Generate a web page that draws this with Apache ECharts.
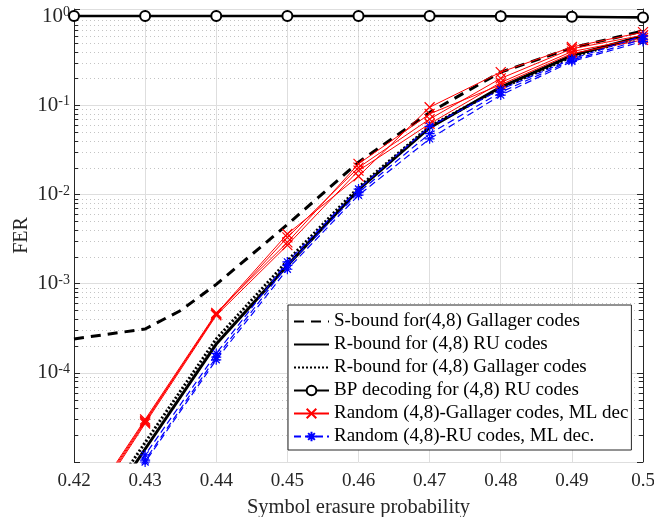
<!DOCTYPE html>
<html>
<head>
<meta charset="utf-8">
<script src="https://cdn.jsdelivr.net/npm/echarts@6/dist/echarts.min.js"></script>
<style>
  html, body { margin: 0; padding: 0; background: #fff; }
  #chart { width: 654px; height: 517px; }
</style>
</head>
<body>
<div id="chart"></div>
<script>
// Symbol erasure probabilities used by most curves
const erasureProb = [0.42, 0.43, 0.44, 0.45, 0.46, 0.47, 0.48, 0.49, 0.50];
// S-bound is evaluated on a slightly finer grid near its knee
const sBoundProb = [0.42, 0.43, 0.435, 0.44, 0.45, 0.46, 0.47, 0.48, 0.49, 0.50];

// Frame error rates
const sBoundGallager = [2.4e-4, 3.1e-4, 5.0e-4, 9.8e-4, 4.6e-3, 2.3e-2, 0.083, 0.235, 0.44, 0.68];
const rBoundRU       = [9.0e-7, 1.4e-5, 2.1e-4, 1.6e-3, 1.13e-2, 0.056, 0.16, 0.36, 0.60];
const rBoundGallager = [1.1e-6, 1.65e-5, 2.4e-4, 1.8e-3, 1.2e-2, 0.058, 0.155, 0.35, 0.59];
const bpRU           = [1, 1, 1, 1, 1, 1, 0.995, 0.985, 0.965];

// ML decoding of several randomly drawn (4,8) Gallager codes
const mlGallager1 = [1.7e-6, 2.8e-5, 4.6e-4, 3.6e-3, 1.6e-2, 0.095, 0.235, 0.45, 0.66];
const mlGallager2 = [1.8e-6, 2.9e-5, 4.5e-4, 3.3e-3, 2.0e-2, 0.070, 0.200, 0.43, 0.61];
const mlGallager3 = [1.6e-6, 2.7e-5, 4.4e-4, 2.7e-3, 1.85e-2, 0.062, 0.180, 0.40, 0.57];
const mlGallager4 = [1.9e-6, 3.0e-5, 4.7e-4, 2.9e-3, 2.2e-2, 0.080, 0.170, 0.38, 0.54];

// ML decoding of several randomly drawn (4,8) RU codes
const mlRU1 = [8.0e-7, 1.2e-5, 1.65e-4, 1.75e-3, 1.15e-2, 0.058, 0.150, 0.33, 0.60];
const mlRU2 = [7.0e-7, 1.05e-5, 1.5e-4, 1.6e-3, 1.05e-2, 0.048, 0.140, 0.32, 0.55];
const mlRU3 = [6.5e-7, 1.0e-5, 1.4e-4, 1.45e-3, 0.98e-2, 0.042, 0.130, 0.31, 0.52];

// Axis settings
const xTicks = [0.42, 0.43, 0.44, 0.45, 0.46, 0.47, 0.48, 0.49, 0.50];
const yDecades = [-5, -4, -3, -2, -1, 0];
const yMaxValue = 1.2;

const NAMES = {
  s: 'S-bound for(4,8) Gallager codes',
  rRU: 'R-bound for (4,8) RU codes',
  rG: 'R-bound for (4,8) Gallager codes',
  bp: 'BP decoding for (4,8) RU codes',
  mlG: 'Random (4,8)-Gallager codes, ML dec',
  mlR: 'Random (4,8)-RU codes, ML dec.'
};

const FONT = 'Liberation Serif';
const AXIS_COLOR = '#262626';

// FER axis is drawn in log10 units
const toPoints = (xs, ys) => xs.map((x, i) => [x, Math.log10(ys[i])]);

// Minor decade positions 2..9 x 10^n
const minorLevels = [];
for (let n = yDecades[0]; n < yDecades[yDecades.length - 1]; n++) {
  for (let k = 2; k <= 9; k++) minorLevels.push([xTicks[0], Math.log10(k * Math.pow(10, n))]);
}

const CROSS = 'path://M0,0L10,10M10,0L0,10';
const STAR = 'path://M5,0L5,10M0,5L10,5M1.5,1.5L8.5,8.5M8.5,1.5L1.5,8.5';

function redSeries(vals) {
  return {
    name: NAMES.mlG, type: 'line', data: toPoints(erasureProb, vals),
    symbol: CROSS, symbolSize: 10, showAllSymbol: true,
    lineStyle: { color: '#ff0000', width: 1 },
    itemStyle: { color: '#ff0000', borderColor: '#ff0000', borderWidth: 1.2 },
    z: 5
  };
}
function blueSeries(vals) {
  return {
    name: NAMES.mlR, type: 'line', data: toPoints(erasureProb, vals),
    symbol: STAR, symbolSize: 10, showAllSymbol: true,
    lineStyle: { color: '#0000ff', width: 1.2, type: [7, 4] },
    itemStyle: { color: '#0000ff', borderColor: '#0000ff', borderWidth: 1.2 },
    z: 6
  };
}

const chart = echarts.init(document.getElementById('chart'), null, { renderer: 'canvas' });

// line-only entries hide the legend marker
const lineOnly = { itemStyle: { opacity: 0 } };

const option = {
  animation: false,
  backgroundColor: '#fff',
  textStyle: { fontFamily: FONT },
  grid: { left: 74, right: 11, top: 9, bottom: 55, containLabel: false, outerBoundsMode: 'none' },
  xAxis: [{
    type: 'value', min: xTicks[0], max: xTicks[xTicks.length - 1], interval: 0.01,
    name: 'Symbol erasure probability', nameLocation: 'middle', nameGap: 35,
    nameTextStyle: { fontFamily: FONT, fontSize: 20.5, color: AXIS_COLOR },
    axisLine: { show: true, lineStyle: { color: AXIS_COLOR, width: 1 } },
    axisTick: { show: true, inside: true, length: 6, lineStyle: { color: AXIS_COLOR } },
    axisLabel: { fontFamily: FONT, fontSize: 19, color: AXIS_COLOR, margin: 10,
      formatter: v => String(+v.toFixed(2)) },
    splitLine: { show: true, lineStyle: { color: '#dedede', width: 1 } }
  }, {
    type: 'value', position: 'top', min: xTicks[0], max: xTicks[xTicks.length - 1], interval: 0.01,
    axisLine: { show: true, lineStyle: { color: AXIS_COLOR, width: 1 } },
    axisTick: { show: true, inside: true, length: 6, lineStyle: { color: AXIS_COLOR } },
    axisLabel: { show: false }, splitLine: { show: false }
  }],
  yAxis: [{
    type: 'value', min: yDecades[0], max: Math.log10(yMaxValue), interval: 1,
    name: 'FER', nameLocation: 'middle', nameGap: 42, nameMoveOverlap: false,
    nameTextStyle: { fontFamily: FONT, fontSize: 20, color: AXIS_COLOR },
    axisLine: { show: true, lineStyle: { color: AXIS_COLOR, width: 1 } },
    axisTick: { show: true, inside: true, length: 6, lineStyle: { color: AXIS_COLOR } },
    axisLabel: {
      margin: 4, color: AXIS_COLOR,
      formatter: v => {
        const r = Math.round(v);
        if (Math.abs(v - r) > 1e-6 || r === yDecades[0]) return '';
        return '{b|10}{s|' + r + '}';
      },
      rich: {
        b: { fontFamily: FONT, fontSize: 21, color: AXIS_COLOR, lineHeight: 21, verticalAlign: 'bottom', padding: [4, 0, 0, 0] },
        s: { fontFamily: FONT, fontSize: 14, color: AXIS_COLOR, lineHeight: 14, verticalAlign: 'top' }
      }
    },
    splitLine: { show: true, lineStyle: { color: '#dedede', width: 1 } }
  }, {
    type: 'value', position: 'right', min: yDecades[0], max: Math.log10(yMaxValue), interval: 1,
    axisLine: { show: true, lineStyle: { color: AXIS_COLOR, width: 1 } },
    axisTick: { show: true, inside: true, length: 6, lineStyle: { color: AXIS_COLOR } },
    axisLabel: { show: false }, splitLine: { show: false }
  }],
  legend: {
    orient: 'vertical', left: 288, top: 305,
    backgroundColor: '#fff', borderColor: AXIS_COLOR, borderWidth: 1,
    padding: [7, 3, 4, 5], itemWidth: 35, itemHeight: 12, itemGap: 4,
    textStyle: { fontFamily: FONT, fontSize: 19, color: '#000' },
    data: [
      Object.assign({ name: NAMES.s }, lineOnly),
      Object.assign({ name: NAMES.rRU }, lineOnly),
      Object.assign({ name: NAMES.rG }, lineOnly),
      { name: NAMES.bp },
      { name: NAMES.mlG },
      { name: NAMES.mlR }
    ]
  },
  series: [
    {
      // minor dotted grid lines and minor ticks on both y axes
      type: 'custom', silent: true, z: 1,
      data: minorLevels,
      renderItem: (params, api) => {
        const cs = params.coordSys;
        const y = Math.round(api.coord([api.value(0), api.value(1)])[1]) + 0.5;
        const x0 = cs.x, x1 = cs.x + cs.width;
        return { type: 'group', children: [
          { type: 'line', shape: { x1: x0, y1: y, x2: x1, y2: y },
            style: { stroke: '#c4c4c4', lineWidth: 1, lineDash: [1, 3] } },
          { type: 'line', shape: { x1: x0, y1: y, x2: x0 + 4, y2: y },
            style: { stroke: AXIS_COLOR, lineWidth: 1 } },
          { type: 'line', shape: { x1: x1 - 4, y1: y, x2: x1, y2: y },
            style: { stroke: AXIS_COLOR, lineWidth: 1 } }
        ] };
      }
    },
    {
      name: NAMES.s, type: 'line', data: toPoints(sBoundProb, sBoundGallager),
      symbol: 'none', lineStyle: { color: '#000', width: 3, type: [10, 7] }, itemStyle: { color: '#000' }, z: 3
    },
    {
      name: NAMES.rRU, type: 'line', data: toPoints(erasureProb, rBoundRU),
      symbol: 'none', lineStyle: { color: '#000', width: 3 }, itemStyle: { color: '#000' }, z: 3
    },
    {
      name: NAMES.rG, type: 'line', data: toPoints(erasureProb, rBoundGallager),
      symbol: 'none', lineStyle: { color: '#000', width: 3, type: [2, 2] }, itemStyle: { color: '#000' }, z: 3
    },
    {
      name: NAMES.bp, type: 'line', data: toPoints(erasureProb, bpRU),
      symbol: 'emptyCircle', symbolSize: 10, showAllSymbol: true,
      lineStyle: { color: '#000', width: 2.5 },
      itemStyle: { color: '#000', borderColor: '#000', borderWidth: 2.5 }, z: 4
    },
    redSeries(mlGallager1), redSeries(mlGallager2), redSeries(mlGallager3), redSeries(mlGallager4),
    blueSeries(mlRU1), blueSeries(mlRU2), blueSeries(mlRU3)
  ]
};

chart.setOption(option);
</script>
</body>
</html>
